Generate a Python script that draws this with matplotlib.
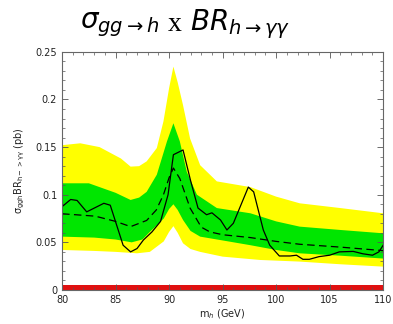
import matplotlib
matplotlib.use('Agg')
import matplotlib.pyplot as plt
from matplotlib.ticker import MultipleLocator

plt.rcParams['mathtext.fontset'] = 'dejavusans'

# 2 sigma band (yellow): upper and lower edges
yel_x = [80, 81.7, 83.5, 85.5, 86.4, 87.2, 87.9, 88.85, 89.47, 90.0, 90.4, 90.8, 91.3, 91.96, 92.9, 94.46, 97.6, 100, 102.2, 106, 110]
yel_hi = [0.152, 0.154, 0.150, 0.138, 0.1295, 0.130, 0.135, 0.149, 0.177, 0.212, 0.2345, 0.218, 0.194, 0.159, 0.131, 0.114, 0.108, 0.098, 0.091, 0.086, 0.0805]
yel_x2 = [80, 83, 85, 87, 88.2, 89.5, 90.0, 90.4, 90.8, 91.3, 92.0, 92.9, 95, 98.5, 102.2, 106, 110]
yel_lo = [0.042, 0.041, 0.040, 0.0385, 0.040, 0.051, 0.061, 0.067, 0.060, 0.049, 0.043, 0.040, 0.035, 0.0315, 0.0298, 0.027, 0.0245]

# 1 sigma band (green)
grn_x = [80, 82.5, 85, 86.4, 87.2, 87.9, 88.85, 89.8, 90.4, 91.0, 91.65, 92.6, 94.46, 97.6, 100, 102.2, 106, 110]
grn_hi = [0.112, 0.112, 0.102, 0.0945, 0.097, 0.103, 0.121, 0.156, 0.175, 0.156, 0.124, 0.100, 0.086, 0.0805, 0.072, 0.0665, 0.063, 0.0595]
grn_x2 = [80, 83, 85, 86.5, 87.5, 88.2, 89.5, 90.0, 90.4, 90.8, 91.3, 92.0, 92.9, 95, 97.6, 100, 102.2, 106, 110]
grn_lo = [0.056, 0.055, 0.053, 0.050, 0.053, 0.061, 0.075, 0.085, 0.090, 0.084, 0.0735, 0.062, 0.056, 0.052, 0.047, 0.042, 0.0385, 0.036, 0.033]

# expected (dashed)
exp_x = [80, 83.1, 85, 86.4, 87.9, 88.8, 89.47, 90.0, 90.4, 91.0, 91.96, 93.0, 93.8, 95, 97.6, 100, 102.2, 106, 110]
exp_y = [0.080, 0.0775, 0.072, 0.0665, 0.073, 0.084, 0.100, 0.118, 0.128, 0.117, 0.086, 0.066, 0.061, 0.058, 0.055, 0.051, 0.048, 0.045, 0.0413]

# observed (solid)
obs_x = [80.0, 80.8, 81.4, 82.3, 83.9, 84.5, 85.7, 86.4, 87.0, 87.6, 88.4, 89.2, 89.9, 90.4, 91.3, 92.0,
         92.7, 93.5, 94.0, 94.8, 95.4, 96.0, 97.4, 97.9, 98.8, 99.4, 100.3, 101.3, 101.9, 102.5, 103.1,
         104.0, 105.0, 105.9, 107.2, 108.1, 109.0, 109.6, 110.0]
obs_y = [0.0875, 0.095, 0.094, 0.082, 0.091, 0.089, 0.047, 0.040, 0.0435, 0.0525, 0.061, 0.072, 0.100,
         0.142, 0.147, 0.115, 0.086, 0.079, 0.081, 0.0735, 0.063, 0.070, 0.108, 0.103, 0.063, 0.047,
         0.0357, 0.0357, 0.0365, 0.0322, 0.0322, 0.035, 0.0365, 0.040, 0.0405, 0.038, 0.0365, 0.040, 0.047]

# signal (red band at the bottom)
sig_x = [80, 85, 90, 95, 100, 105, 110]
sig_y = [0.005, 0.005, 0.005, 0.005, 0.005, 0.005, 0.005]

fig = plt.figure(figsize=(3.93, 3.24), dpi=100)
ax = fig.add_axes([0.158, 0.105, 0.817, 0.735])

ax.fill(yel_x + yel_x2[::-1], yel_hi + yel_lo[::-1], color='#ffff00', lw=0)
ax.fill(grn_x + grn_x2[::-1], grn_hi + grn_lo[::-1], color='#00e600', lw=0)
ax.plot(exp_x, exp_y, color='black', ls=(0, (6, 3.5)), lw=0.9)
ax.plot(obs_x, obs_y, color='black', lw=0.9)
ax.fill_between(sig_x, 0, sig_y, color='#e01010', lw=0)

ax.set_xlim(80, 110)
ax.set_ylim(0, 0.25)
ax.xaxis.set_major_locator(MultipleLocator(5))
ax.xaxis.set_minor_locator(MultipleLocator(1))
ax.yaxis.set_major_locator(MultipleLocator(0.05))
ax.yaxis.set_minor_locator(MultipleLocator(0.01))
ax.set_yticks([0, 0.05, 0.1, 0.15, 0.2, 0.25])
ax.set_yticklabels(['0', '0.05', '0.1', '0.15', '0.2', '0.25'])

ax.tick_params(which='both', direction='in', top=True, right=True, color='#555555', labelsize=7, labelcolor='#222222')
ax.tick_params(which='major', length=4, width=0.6)
ax.tick_params(which='minor', length=2, width=0.5)
for s in ax.spines.values():
    s.set_color('#666666')
    s.set_linewidth(0.8)

ax.set_xlabel('m$_h$ (GeV)', fontsize=7, color='#222222', labelpad=2)
ax.set_ylabel(r'$\mathregular{\sigma_{ggh}BR_{h->\gamma\gamma}}$ (pb)', fontsize=7, color='#222222', labelpad=6)
fig.text(0.204, 0.925, r'$\sigma_{gg\rightarrow h}$', fontsize=20, ha='left', va='center')
fig.text(0.428, 0.925, 'x', fontsize=20, family='Liberation Serif', ha='left', va='center')
fig.text(0.483, 0.925, r'$BR_{h\rightarrow\gamma\gamma}$', fontsize=20, ha='left', va='center')

fig.savefig('out.png', dpi=100)
